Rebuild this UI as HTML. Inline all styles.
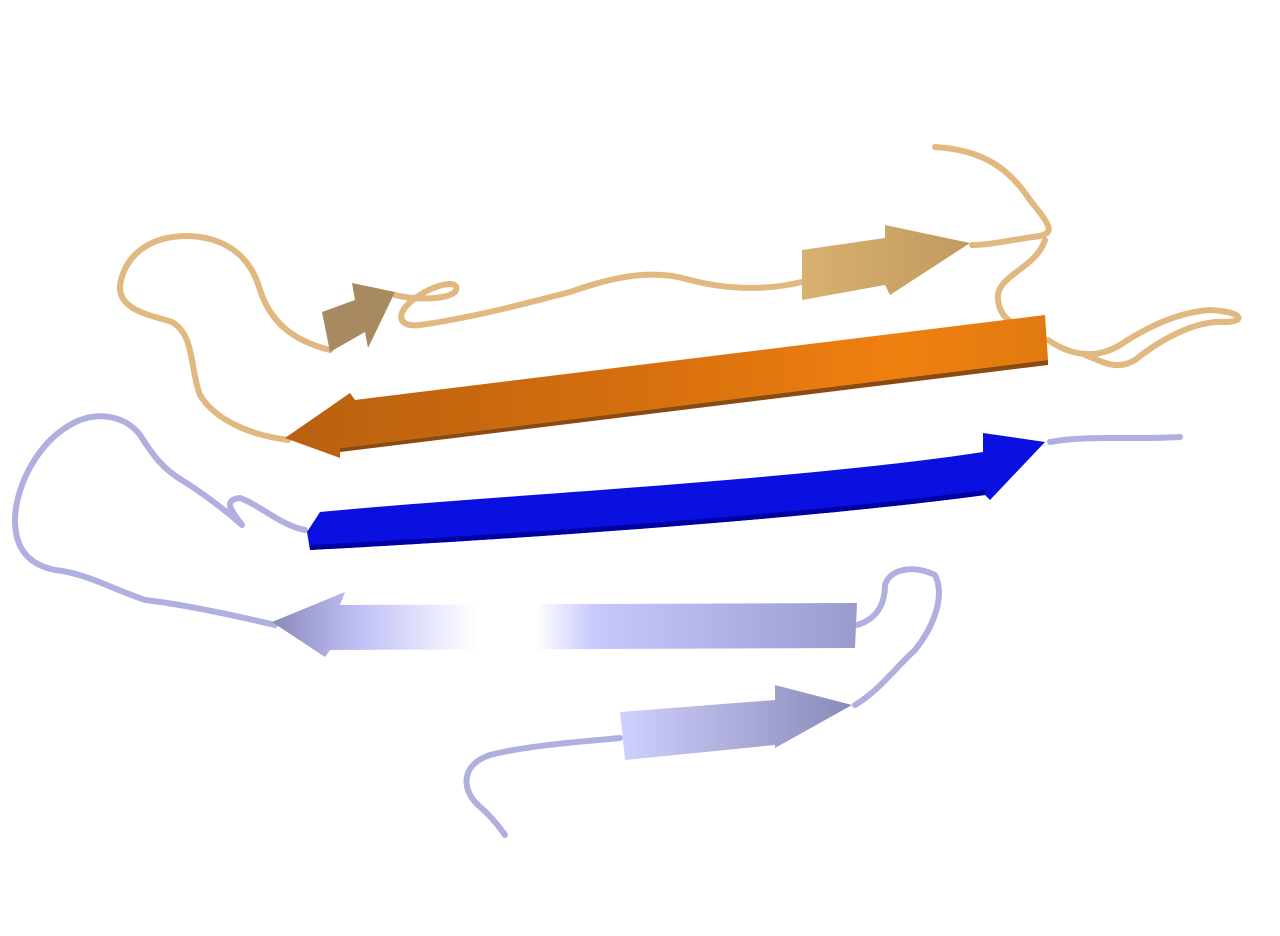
<!DOCTYPE html>
<html><head><meta charset="utf-8"><style>html,body{margin:0;padding:0;background:#fff}svg{display:block}</style></head>
<body>
<svg width="1280" height="936" viewBox="0 0 1280 936">
<defs>
<linearGradient id="og" x1="0" x2="1"><stop offset="0" stop-color="#b8600f"/><stop offset="0.5" stop-color="#d8700e"/><stop offset="0.8" stop-color="#f08010"/><stop offset="1" stop-color="#e07a10"/></linearGradient>
<linearGradient id="tg" x1="0" x2="1"><stop offset="0" stop-color="#d8b070"/><stop offset="1" stop-color="#c09a60"/></linearGradient>
<linearGradient id="lg" x1="0" x2="1"><stop offset="0" stop-color="#8a8ab8"/><stop offset="0.15" stop-color="#c0c0f8"/><stop offset="0.35" stop-color="#ffffff"/><stop offset="0.45" stop-color="#ffffff"/><stop offset="0.55" stop-color="#c8c8ff"/><stop offset="1" stop-color="#9a9acc"/></linearGradient>
<linearGradient id="lg2" x1="0" x2="1"><stop offset="0" stop-color="#d0d0ff"/><stop offset="1" stop-color="#8a8ab8"/></linearGradient>
</defs>
<g fill="none" stroke-linecap="round" stroke-linejoin="round">
<path stroke="#e0b880" stroke-width="6" d="M935,147 C985,150 1010,170 1030,200 C1050,225 1055,232 1040,236 C1010,240 990,245 972,245 M1045,240 C1035,270 995,275 998,300 C1000,315 1008,320 1012,322"/>
<path stroke="#e0b880" stroke-width="6" d="M802,282 C760,292 720,288 690,280 C650,268 610,278 570,292 C520,305 470,318 420,325 C395,328 395,310 420,295 C440,282 462,280 455,292 C445,300 415,300 395,295"/>
<path stroke="#e0b880" stroke-width="6" d="M330,350 C290,340 270,320 260,290 C250,255 225,238 190,236 C150,235 125,255 120,285 C118,310 150,315 172,322 C195,335 190,370 200,395 C215,420 250,435 288,440"/>
<path stroke="#e0b880" stroke-width="6" d="M1048,340 C1070,355 1095,360 1120,345 C1150,325 1180,312 1210,310 C1245,312 1245,322 1225,322 C1195,320 1160,340 1135,360 C1115,372 1100,360 1085,355"/>
<path stroke="#b0b0e0" stroke-width="6" d="M1180,437 C1130,440 1090,435 1050,442"/>
<path stroke="#b0b0e0" stroke-width="6" d="M305,530 C280,525 260,505 240,498 C220,500 235,515 242,525 C225,510 205,495 185,482 C160,468 150,450 140,435 C125,415 95,410 70,425 C35,445 15,490 15,520 C15,550 30,565 55,570 C85,573 110,588 145,600 C180,604 220,612 275,625"/>
<path stroke="#b0b0e0" stroke-width="6" d="M857,625 C880,618 885,600 885,585 C890,568 915,565 935,575 C945,595 935,625 915,650 C895,668 880,690 855,705"/>
<path stroke="#b0b0e0" stroke-width="6" d="M620,738 C580,742 530,745 490,755 C460,765 462,790 478,805 C490,815 498,825 505,835"/>
</g>
<polygon fill="url(#tg)" points="802,250 885,238 885,225 970,243 890,295 885,285 802,300"/>
<polygon fill="#a88a60" points="322,312 355,300 352,283 395,292 368,348 365,332 330,352"/>
<polygon fill="url(#og)" points="285,438 350,393 355,400 1045,315 1048,360 340,448 340,458"/>
<polygon fill="#8a4a10" points="340,448 1048,360 1048,365 340,452"/>
<path fill="#0a10e0" d="M320,512 C500,495 800,480 983,452 L983,433 L1045,442 L990,500 L985,495 C800,520 500,540 310,550 L307,532 Z"/>
<path fill="#0000a0" d="M310,545 C500,535 800,515 985,490 L985,495 C800,520 500,540 310,550 Z"/>
<polygon fill="url(#lg)" points="272,622 345,592 340,605 857,603 855,648 330,650 325,657"/>
<polygon fill="url(#lg2)" points="620,712 775,700 775,685 852,705 775,748 775,745 625,760"/>
</svg>
</body></html>
